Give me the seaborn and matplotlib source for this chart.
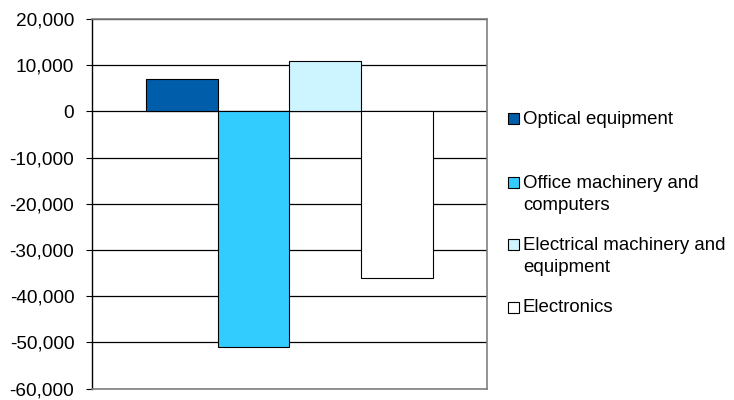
import matplotlib
matplotlib.use("Agg")
import matplotlib.pyplot as plt
from matplotlib.patches import Rectangle
from matplotlib.ticker import FuncFormatter, MultipleLocator
import seaborn as sns
import pandas as pd

# Trade balance by product group
series = [
    "Optical equipment",
    "Office machinery and computers",
    "Electrical machinery and equipment",
    "Electronics",
]
legend_labels = [
    "Optical equipment",
    "Office machinery and\ncomputers",
    "Electrical machinery and\nequipment",
    "Electronics",
]
values = [7000, -51000, 11000, -36000]
colors = ["#005DAA", "#33CCFF", "#CCF5FF", "#FFFFFF"]

df = pd.DataFrame({"group": [""] * len(series), "series": series, "value": values})

sns.set_theme(style="white")
plt.rcParams["font.family"] = ["Liberation Sans", "DejaVu Sans"]

W, H = 734, 400
fig = plt.figure(figsize=(W / 100, H / 100), dpi=100)
ax = fig.add_axes([92 / W, 1 - 388.7 / H, (486.7 - 92) / W, (388.7 - 19) / H])

sns.barplot(
    data=df, x="group", y="value", hue="series", hue_order=series,
    palette=colors, width=0.726, dodge=True, ax=ax, legend=False,
    edgecolor="black", linewidth=0.8, saturation=1,
)

ax.set_xlim(-0.5, 0.5)
ax.set_ylim(-60000, 20000)
ax.yaxis.set_major_locator(MultipleLocator(10000))
ax.yaxis.set_major_formatter(FuncFormatter(lambda v, p: f"{int(v):,}"))
ax.set_xlabel("")
ax.set_ylabel("")
ax.set_xticks([])

ax.set_axisbelow(True)
ax.yaxis.grid(True, color="black", linewidth=0.9)
ax.xaxis.grid(False)

for side in ("top", "bottom", "right"):
    ax.spines[side].set_visible(True)
    ax.spines[side].set_color("#808080")
    ax.spines[side].set_linewidth(1.2)
ax.spines["left"].set_color("black")
ax.spines["left"].set_linewidth(1.0)

ax.tick_params(axis="y", which="major", left=True, length=4.3, width=0.8,
               color="black", pad=8.4, labelsize=13.7, labelcolor="black")

# Legend on the right, marker level with the first line of each label
marker_x = 508
text_x = 523
first_line_centers = [118, 182, 244, 307]
for label, color, yc in zip(legend_labels, colors, first_line_centers):
    fig.patches.append(Rectangle(
        (marker_x / W, 1 - (yc + 5.5) / H), 11 / W, 11 / H,
        transform=fig.transFigure, facecolor=color, edgecolor="black",
        linewidth=0.8))
    fig.text(text_x / W, 1 - (yc - 7.5) / H, label, ha="left", va="top",
             fontsize=13.4, color="black", linespacing=1.45)

fig.savefig("out.png", dpi=100)
